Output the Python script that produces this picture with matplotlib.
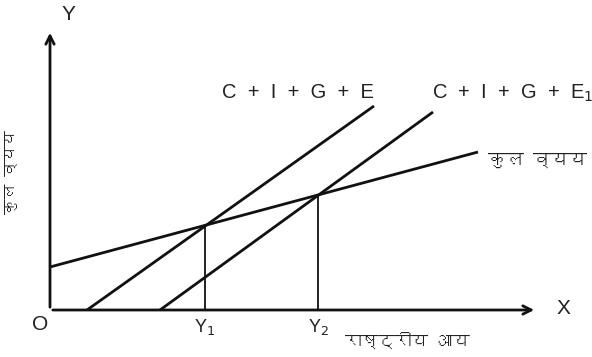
import matplotlib
matplotlib.use("Agg")
import matplotlib.pyplot as plt
from matplotlib import font_manager
from matplotlib.ft2font import FT2Font

# ---- data (economic units, origin at O) ----
total_exp_x = [0, 428]
total_exp_y = [43, 158]
cige_x = [37, 324]
cige_y = [0, 204]
cige1_x = [110, 383]
cige1_y = [0, 198]
y1_x = 155
y1_y = 84.6
y2_x = 268
y2_y = 115

label_total = "कुल व्यय"
label_income = "राष्ट्रीय आय"
label_cige = "C  +  I  +  G  +  E"
label_cige1 = "C  +  I  +  G  +  E$_1$"

# ---- find a Devanagari-capable font ----
deva = None
for f in font_manager.fontManager.ttflist:
    try:
        if 0x0915 in FT2Font(f.fname).get_charmap():
            deva = f.name
            break
    except Exception:
        pass
fams = ([deva] if deva else []) + ["DejaVu Sans"]
latin = ["Liberation Sans", "DejaVu Sans"]

fig = plt.figure(figsize=(5.92, 3.57), dpi=100)
ax = fig.add_axes([0, 0, 1, 1])
ax.set_xlim(-50, 542)
ax.set_ylim(-47, 310)
ax.axis("off")

lc = "#111111"
lw = 2.0
# axes
ax.annotate("", xy=(0, 280), xytext=(0, 0),
            arrowprops=dict(arrowstyle="->,head_length=0.6,head_width=0.3", lw=lw, color=lc))
ax.annotate("", xy=(487, 0), xytext=(0, 0),
            arrowprops=dict(arrowstyle="->,head_length=0.6,head_width=0.3", lw=lw, color=lc))

ax.plot(total_exp_x, total_exp_y, color=lc, lw=lw, solid_capstyle="butt")
ax.plot(cige_x, cige_y, color=lc, lw=lw, solid_capstyle="butt")
ax.plot(cige1_x, cige1_y, color=lc, lw=lw, solid_capstyle="butt")
ax.plot([y1_x, y1_x], [0, y1_y], color=lc, lw=1.3)
ax.plot([y2_x, y2_x], [0, y2_y], color=lc, lw=1.3)

tc = "#222222"
ax.text(18, 296, "Y", fontsize=15, family=latin, color=tc, ha="center", va="center")
ax.text(513, 2, "X", fontsize=15, family=latin, color=tc, ha="center", va="center")
ax.text(-10, -15, "O", fontsize=15, family=latin, color=tc, ha="center", va="center")
ax.text(y1_x, -17, "Y$_1$", fontsize=13, family=latin, color=tc, ha="center", va="center")
ax.text(y2_x, -17, "Y$_2$", fontsize=13, family=latin, color=tc, ha="center", va="center")
ax.text(172, 217, label_cige, fontsize=14.5, family=latin, color=tc, ha="left", va="center")
ax.text(382, 217, label_cige1, fontsize=14.5, family=latin, color=tc, ha="left", va="center")
ax.text(438, 150, label_total, fontsize=13, family=fams, color=tc, ha="left", va="center")
ax.text(295, -30, label_income, fontsize=12, family=fams, color=tc, ha="left", va="center")
ax.text(-38, 138, label_total, fontsize=11, family=fams, color=tc, ha="center", va="center",
        rotation=90)

fig.savefig("out.png", dpi=100)
